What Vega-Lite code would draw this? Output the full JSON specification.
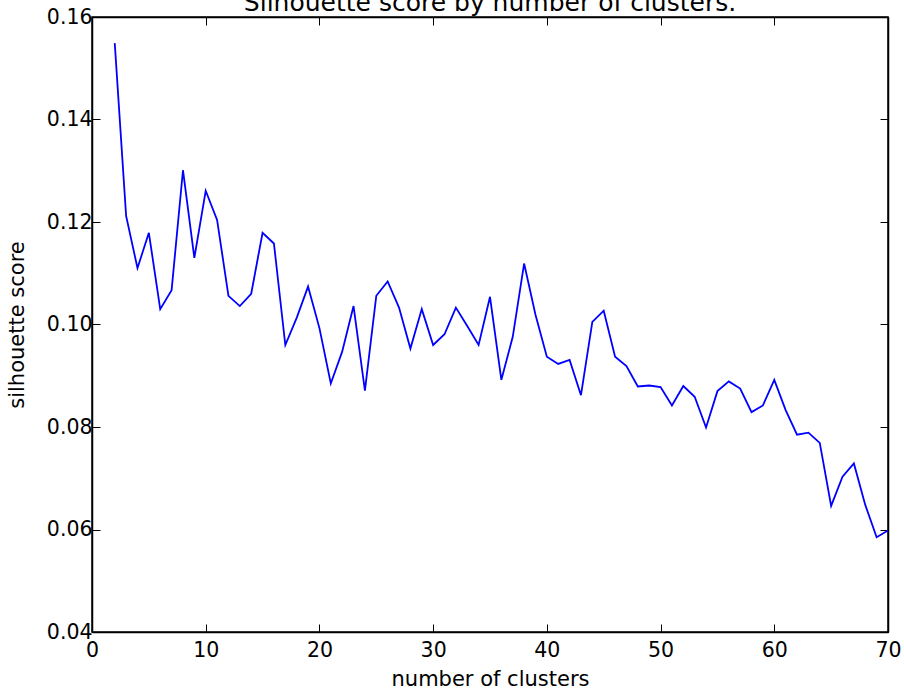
{
  "$schema": "https://vega.github.io/schema/vega-lite/v6.json",
  "autosize": "none",
  "width": 796,
  "height": 615,
  "padding": {"left": 92, "top": 17, "right": 16, "bottom": 59},
  "background": "white",
  "title": {
    "text": "Silhouette score by number of clusters.",
    "font": "DejaVu Sans",
    "fontSize": 25,
    "fontWeight": "normal",
    "color": "black",
    "anchor": "middle",
    "baseline": "alphabetic",
    "offset": 0,
    "dy": 29
  },
  "config": {
    "font": "DejaVu Sans",
    "view": {"stroke": "black", "strokeWidth": 1.5},
    "axis": {
      "labelFont": "DejaVu Sans",
      "labelFontSize": 20.5,
      "labelColor": "black",
      "titleFont": "DejaVu Sans",
      "titleFontSize": 21,
      "titleFontWeight": "normal",
      "titleColor": "black",
      "grid": false,
      "domainColor": "black",
      "domainWidth": 1.5,
      "tickColor": "black",
      "tickWidth": 1,
      "tickSize": -8
    }
  },
  "data": {
    "values": [
      {"k": 2, "s": 0.1549}, {"k": 3, "s": 0.1212}, {"k": 4, "s": 0.1110}, {"k": 5, "s": 0.1179},
      {"k": 6, "s": 0.1030}, {"k": 7, "s": 0.1067}, {"k": 8, "s": 0.1301}, {"k": 9, "s": 0.1130},
      {"k": 10, "s": 0.1261}, {"k": 11, "s": 0.1204}, {"k": 12, "s": 0.1056}, {"k": 13, "s": 0.1036},
      {"k": 14, "s": 0.1060}, {"k": 15, "s": 0.1179}, {"k": 16, "s": 0.1158}, {"k": 17, "s": 0.0960},
      {"k": 18, "s": 0.1013}, {"k": 19, "s": 0.1074}, {"k": 20, "s": 0.0993}, {"k": 21, "s": 0.0885},
      {"k": 22, "s": 0.0947}, {"k": 23, "s": 0.1036}, {"k": 24, "s": 0.0871}, {"k": 25, "s": 0.1056},
      {"k": 26, "s": 0.1084}, {"k": 27, "s": 0.1033}, {"k": 28, "s": 0.0953}, {"k": 29, "s": 0.1030},
      {"k": 30, "s": 0.0960}, {"k": 31, "s": 0.0981}, {"k": 32, "s": 0.1033}, {"k": 33, "s": 0.0997},
      {"k": 34, "s": 0.0960}, {"k": 35, "s": 0.1054}, {"k": 36, "s": 0.0892}, {"k": 37, "s": 0.0976},
      {"k": 38, "s": 0.1119}, {"k": 39, "s": 0.1019}, {"k": 40, "s": 0.0937}, {"k": 41, "s": 0.0923},
      {"k": 42, "s": 0.0931}, {"k": 43, "s": 0.0862}, {"k": 44, "s": 0.1005}, {"k": 45, "s": 0.1027},
      {"k": 46, "s": 0.0937}, {"k": 47, "s": 0.0919}, {"k": 48, "s": 0.0879}, {"k": 49, "s": 0.0881},
      {"k": 50, "s": 0.0878}, {"k": 51, "s": 0.0842}, {"k": 52, "s": 0.0880}, {"k": 53, "s": 0.0859},
      {"k": 54, "s": 0.0799}, {"k": 55, "s": 0.0870}, {"k": 56, "s": 0.0889}, {"k": 57, "s": 0.0875},
      {"k": 58, "s": 0.0829}, {"k": 59, "s": 0.0842}, {"k": 60, "s": 0.0892}, {"k": 61, "s": 0.0833},
      {"k": 62, "s": 0.0785}, {"k": 63, "s": 0.0789}, {"k": 64, "s": 0.0769}, {"k": 65, "s": 0.0646},
      {"k": 66, "s": 0.0703}, {"k": 67, "s": 0.0729}, {"k": 68, "s": 0.0648}, {"k": 69, "s": 0.0585},
      {"k": 70, "s": 0.0598}
    ]
  },
  "layer": [
    {
      "mark": {"type": "line", "color": "#0000ff", "strokeWidth": 1.8, "clip": true},
      "encoding": {
        "x": {
          "field": "k", "type": "quantitative",
          "scale": {"domain": [0, 70], "nice": false, "zero": false},
          "axis": {"values": [0, 10, 20, 30, 40, 50, 60, 70], "format": "d", "title": "number of clusters", "labelPadding": 16, "titlePadding": 8, "labelFlush": false}
        },
        "y": {
          "field": "s", "type": "quantitative",
          "scale": {"domain": [0.04, 0.16], "nice": false, "zero": false},
          "axis": {"values": [0.04, 0.06, 0.08, 0.10, 0.12, 0.14, 0.16], "format": ".2f", "title": "silhouette score", "labelPadding": 8, "titlePadding": 19, "labelFlush": false}
        }
      }
    },
    {
      "mark": {"type": "line", "opacity": 0},
      "encoding": {
        "x": {
          "field": "k", "type": "quantitative",
          "scale": {"domain": [0, 70], "nice": false, "zero": false},
          "axis": {"orient": "top", "values": [0, 10, 20, 30, 40, 50, 60, 70], "labels": false, "title": null}
        },
        "y": {
          "field": "s", "type": "quantitative",
          "scale": {"domain": [0.04, 0.16], "nice": false, "zero": false},
          "axis": {"orient": "right", "values": [0.04, 0.06, 0.08, 0.10, 0.12, 0.14, 0.16], "labels": false, "title": null}
        }
      }
    }
  ],
  "resolve": {"axis": {"x": "independent", "y": "independent"}}
}
